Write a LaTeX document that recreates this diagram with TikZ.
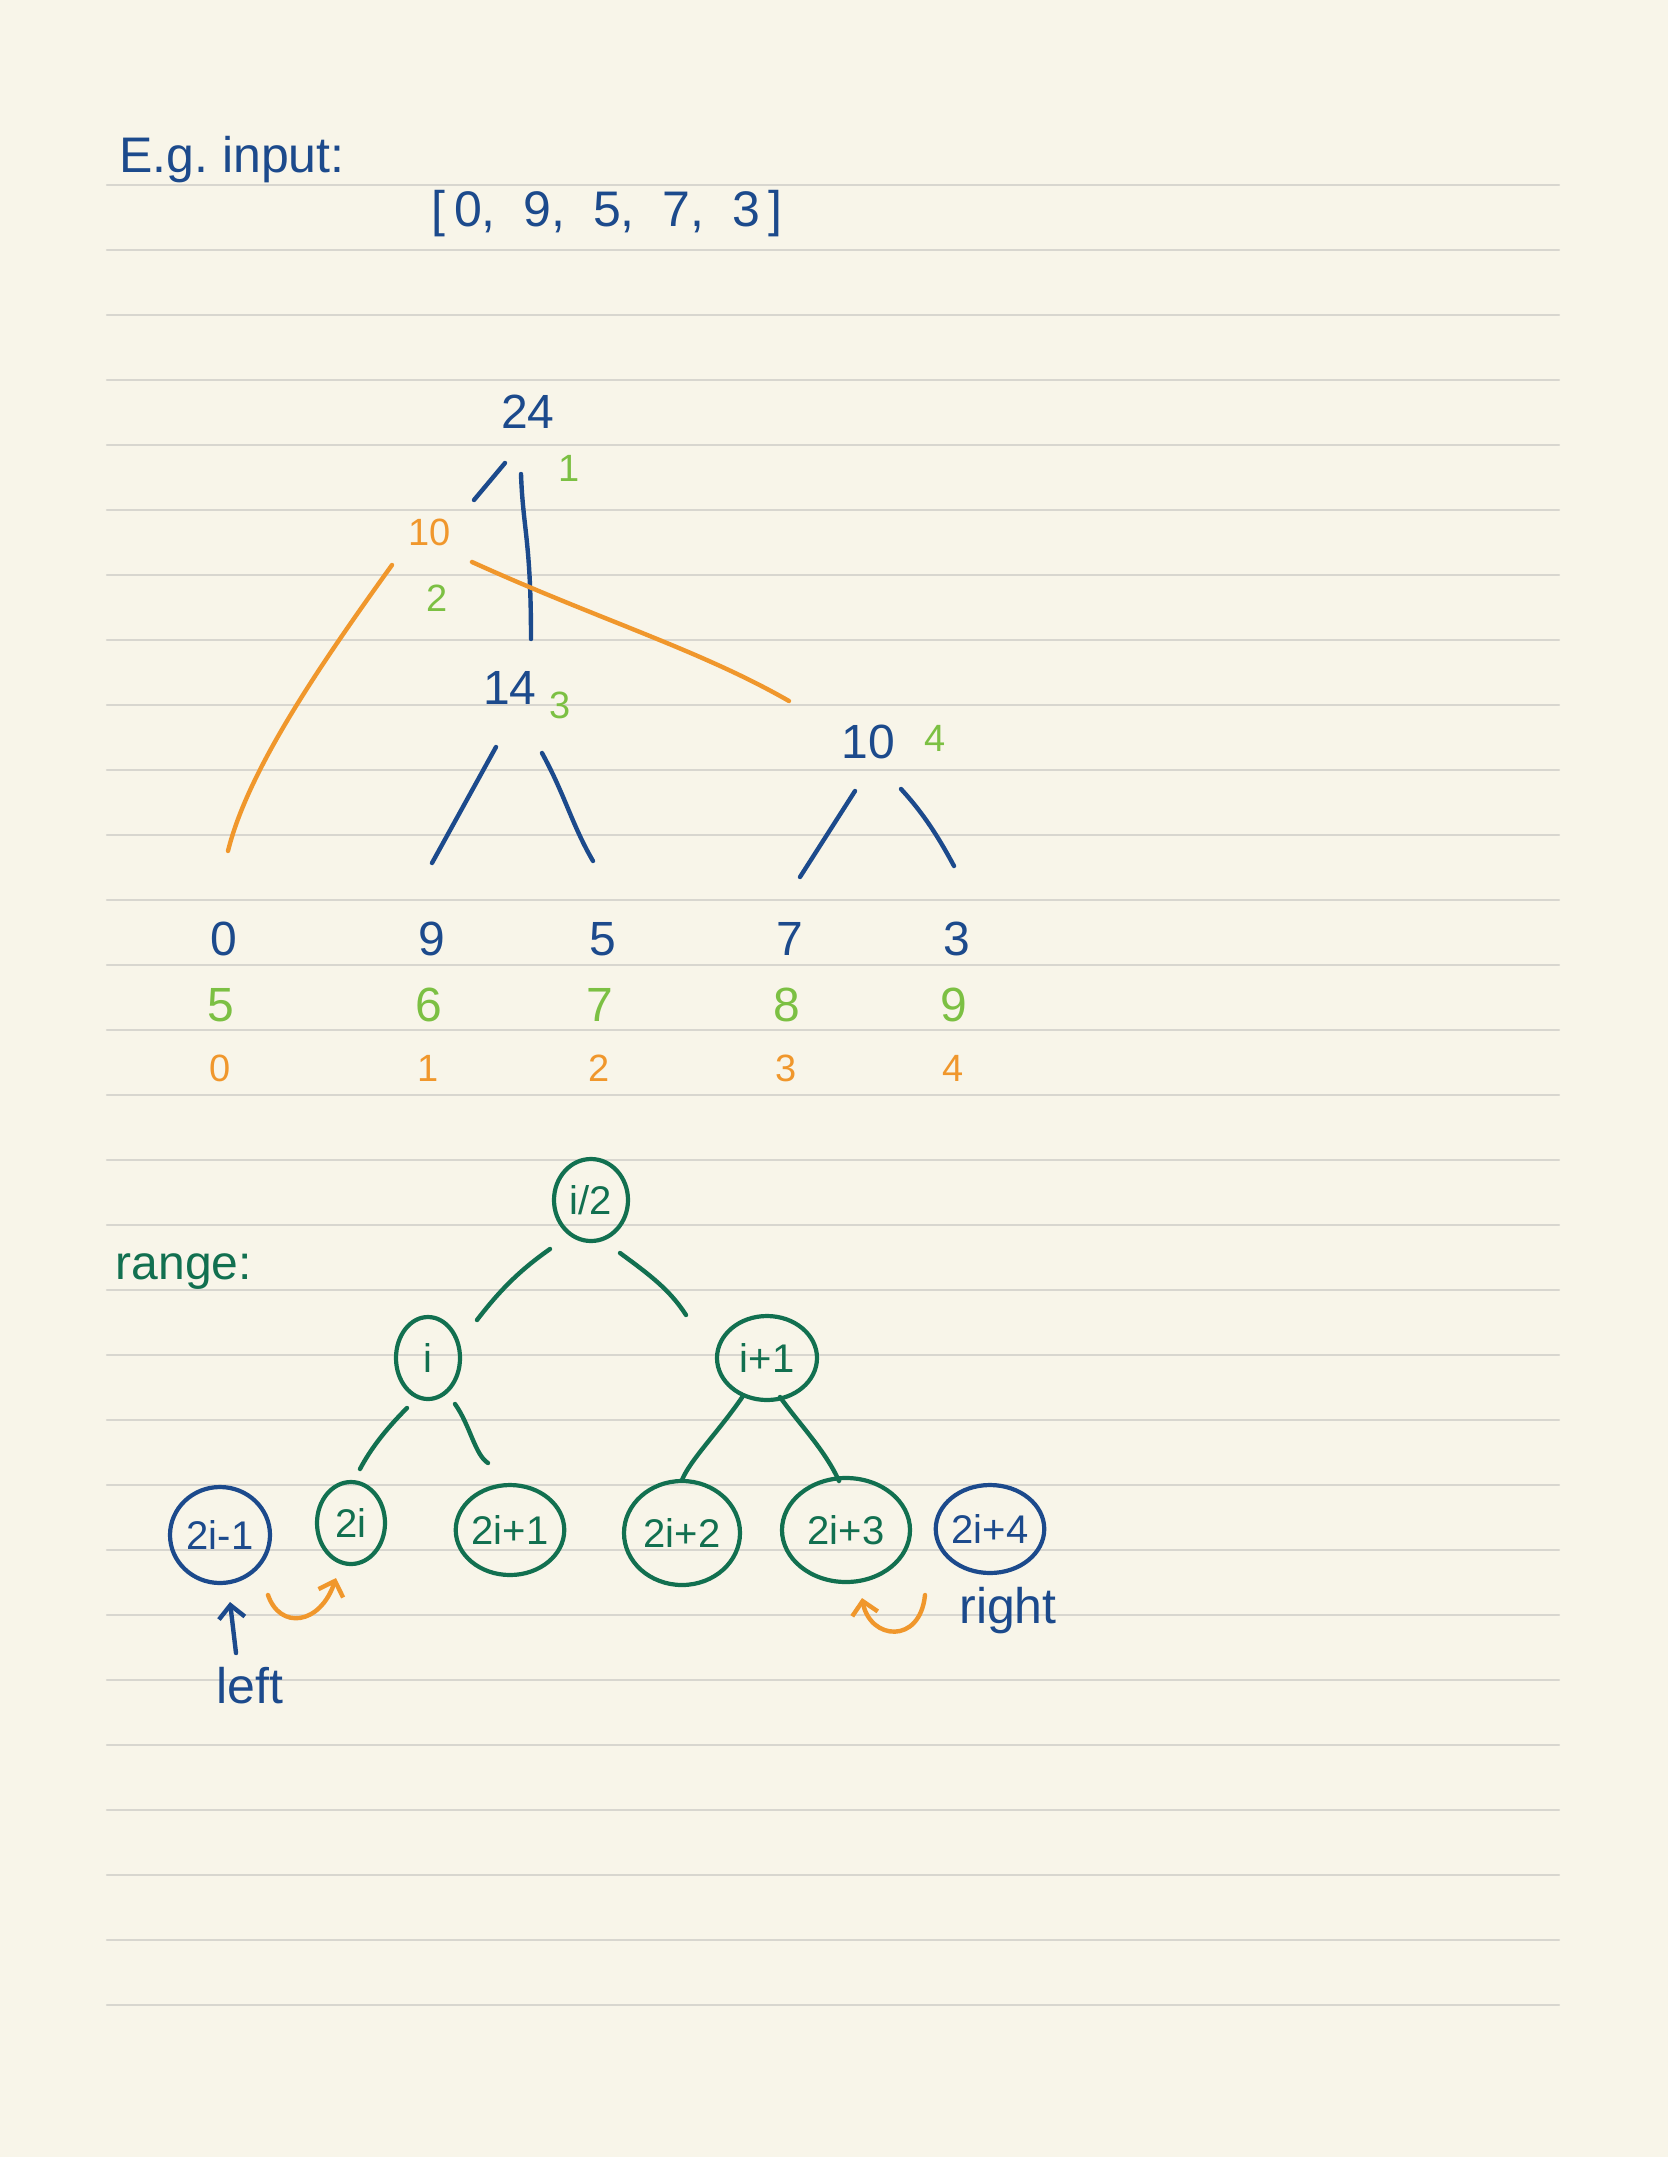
\documentclass[tikz,border=0pt]{standalone}
\usepackage{fontspec}
\setmainfont{Liberation Sans}
\usetikzlibrary{shapes.geometric,arrows.meta}

\definecolor{paper}{HTML}{F8F5E9}
\definecolor{ruling}{HTML}{D8D6CF}
\definecolor{inkblue}{HTML}{1C4A8C}
\definecolor{inklime}{HTML}{7CC043}
\definecolor{inkorange}{HTML}{F0972C}
\definecolor{inkgreen}{HTML}{127050}

\newcommand{\hand}[1]{\fontsize{#1}{#1}\selectfont}

\begin{document}
\begin{tikzpicture}[x=1pt,y=-1pt,line cap=round,line join=round,
  stroke/.style={line width=4.4pt},
  tip/.style={-{Straight Barb[length=13pt,width=26pt]}},
  digit/.style={inner sep=0pt,font=\hand{48}},
  small digit/.style={inner sep=0pt,font=\hand{38}},
  ring/.style={ellipse,draw,line width=4.2pt,inner sep=0pt,font=\hand{40}}]

% The paper and its ruled lines
\fill[paper] (0,0) rectangle (1668,2157);
\useasboundingbox (0,0) rectangle (1668,2157);
\foreach \k in {0,...,28}
  \draw[color=ruling,line width=2.4pt] (107,185+65*\k) -- (1559,185+65*\k);

% The input array
\node[color=inkblue,font=\hand{50},inner sep=0pt] (title) at (232,160) {E.g.\ input:};
\node[color=inkblue,font=\hand{50},inner sep=0pt] (input) at (607,214) {[\,0,\; 9,\; 5,\; 7,\; 3\,]};

% The sums, with their indices
\node[digit,color=inkblue] (sum24) at (528,412) {24};
\node[small digit,color=inklime] (idx1) at (569,468) {1};
\node[small digit,color=inkorange] (sum10a) at (430,532) {10};
\node[small digit,color=inklime] (idx2) at (437,598) {2};
\node[digit,color=inkblue] (sum14) at (510,688) {14};
\node[small digit,color=inklime] (idx3) at (560,705) {3};
\node[digit,color=inkblue] (sum10b) at (868,742) {10};
\node[small digit,color=inklime] (idx4) at (935,738) {4};

% The strokes of the sum tree
\coordinate (a1) at (505,463); \coordinate (a2) at (474,500);
\coordinate (b1) at (521,474); \coordinate (b2) at (531,639);
\coordinate (c1) at (496,747); \coordinate (c2) at (432,863);
\coordinate (d1) at (542,753); \coordinate (d2) at (593,861);
\coordinate (e1) at (855,791); \coordinate (e2) at (800,877);
\coordinate (f1) at (901,789); \coordinate (f2) at (954,866);
\draw[stroke,color=inkblue] (a1) -- (a2);
\draw[stroke,color=inkblue] (b1) .. controls (523,530) and (531,540) .. (b2);
\draw[stroke,color=inkblue] (c1) -- (c2);
\draw[stroke,color=inkblue] (d1) .. controls (565,795) and (572,825) .. (d2);
\draw[stroke,color=inkblue] (e1) -- (e2);
\draw[stroke,color=inkblue] (f1) .. controls (925,815) and (940,840) .. (f2);

% The orange index strokes
\coordinate (g1) at (392,565); \coordinate (g2) at (228,851);
\coordinate (h1) at (472,562); \coordinate (h2) at (789,701);
\draw[stroke,color=inkorange] (g1) .. controls (320,665) and (248,770) .. (g2);
\draw[stroke,color=inkorange] (h1) .. controls (600,620) and (700,650) .. (h2);

% The leaves: values, tree indices, array indices
\foreach \x/\v/\t/\a [count=\n] in {224/0/5/0, 432/9/6/1, 603/5/7/2, 790/7/8/3, 957/3/9/4} {
  \node[digit,color=inkblue] (val\n) at (\x,939) {\v};
  \node[digit,color=inklime] (tree\n) at (\x-3,1005) {\t};
  \node[small digit,color=inkorange] (arr\n) at (\x-4,1068) {\a};
}

% The range tree
\node[color=inkgreen,font=\hand{48},inner sep=0pt] (range) at (184,1272) {range:};
\node[ring,color=inkgreen,minimum width=74pt,minimum height=82pt] (half) at (591,1200) {i/2};
\node[ring,color=inkgreen,minimum width=64pt,minimum height=82pt] (mid) at (428,1358) {i};
\node[ring,color=inkgreen,minimum width=100pt,minimum height=84pt] (next) at (767,1358) {i+1};
\node[ring,color=inkblue,minimum width=100pt,minimum height=96pt] (r1) at (220,1535) {2i-1};
\node[ring,color=inkgreen,minimum width=68pt,minimum height=82pt] (r2) at (351,1523) {2i};
\node[ring,color=inkgreen,minimum width=104pt,minimum height=90pt] (r3) at (510,1530) {2i+1};
\node[ring,color=inkgreen,minimum width=116pt,minimum height=104pt] (r4) at (682,1533) {2i+2};
\node[ring,color=inkgreen,minimum width=128pt,minimum height=104pt] (r5) at (846,1530) {2i+3};
\node[ring,color=inkblue,minimum width=108pt,minimum height=88pt] (r6) at (990,1529) {2i+4};

% The strokes of the range tree
\coordinate (p1) at (550,1249); \coordinate (p2) at (477,1320);
\coordinate (q1) at (620,1253); \coordinate (q2) at (686,1315);
\coordinate (s1) at (407,1408); \coordinate (s2) at (360,1469);
\coordinate (t1) at (455,1404); \coordinate (t2) at (488,1463);
\coordinate (u1) at (743,1396); \coordinate (u2) at (682,1480);
\coordinate (w1) at (780,1397); \coordinate (w2) at (839,1481);
\draw[stroke,color=inkgreen] (p1) .. controls (520,1270) and (500,1290) .. (p2);
\draw[stroke,color=inkgreen] (q1) .. controls (650,1275) and (670,1290) .. (q2);
\draw[stroke,color=inkgreen] (s1) .. controls (385,1430) and (370,1450) .. (s2);
\draw[stroke,color=inkgreen] (t1) .. controls (470,1425) and (475,1455) .. (t2);
\draw[stroke,color=inkgreen] (u1) .. controls (720,1430) and (690,1460) .. (u2);
\draw[stroke,color=inkgreen] (w1) .. controls (800,1425) and (825,1450) .. (w2);

% The moves of left and right, and their labels
\node[color=inkblue,font=\hand{50},inner sep=0pt] (left) at (250,1686) {left};
\node[color=inkblue,font=\hand{50},inner sep=0pt] (right) at (1008,1611) {right};
\coordinate (lt) at (236,1653); \coordinate (lh) at (230,1602);
\draw[stroke,color=inkblue,tip] (lt) -- (lh);
\coordinate (mo) at (268,1595); \coordinate (mh) at (336,1578);
\draw[stroke,color=inkorange,tip] (mo) .. controls (280,1630) and (320,1625) .. (mh);
\coordinate (no) at (925,1595); \coordinate (nh) at (862,1598);
\draw[stroke,color=inkorange,tip] (no) .. controls (920,1645) and (870,1640) .. (nh);

\end{tikzpicture}
\end{document}
